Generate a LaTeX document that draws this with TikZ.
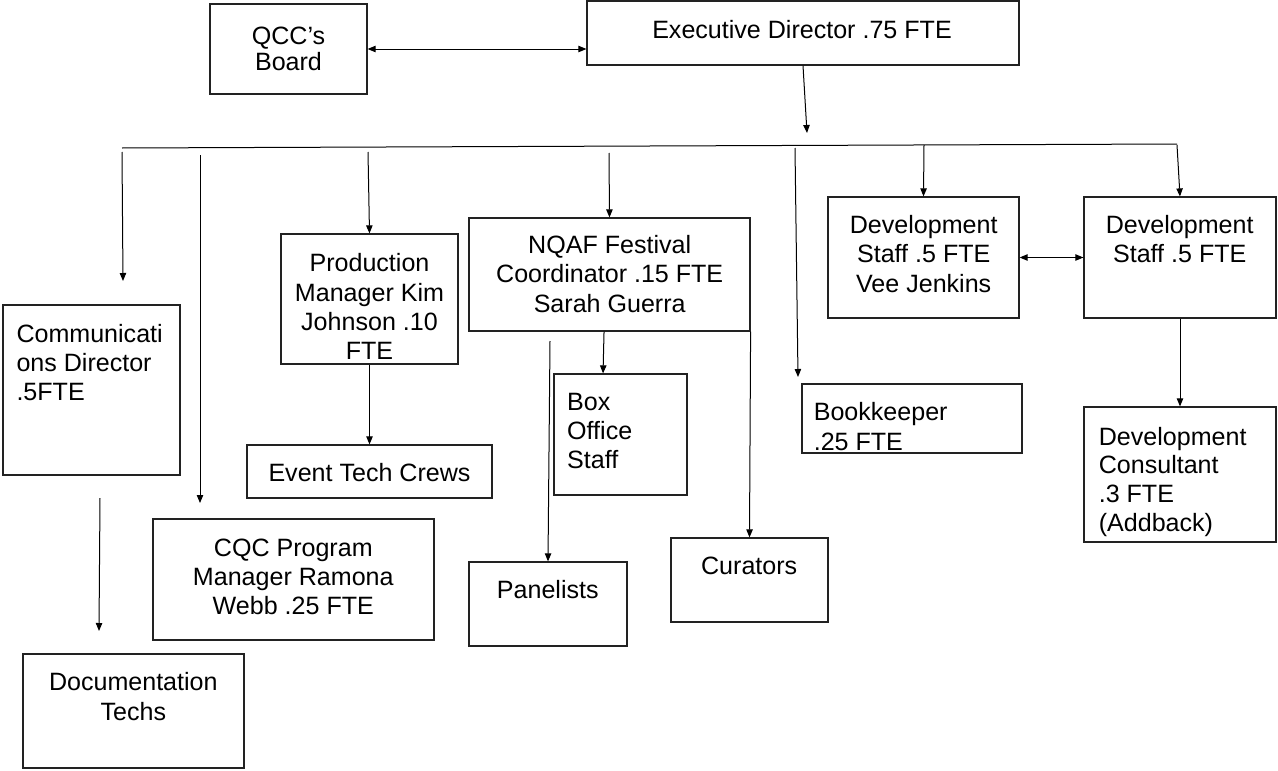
\documentclass[tikz,border=0pt]{standalone}
\usepackage{fontspec}
\setmainfont{Liberation Sans}
\usetikzlibrary{arrows.meta,fit}

\tikzset{every picture/.style={line width=0.75pt}}
\tikzset{
  box/.style={draw, inner sep=0pt, line width=0.9pt, color={rgb, 255:red, 34; green, 34; blue, 34 }},
  txt/.style={anchor=base, inner sep=0pt, align=center, font=\fontsize{18.8}{22}\selectfont},
  ltxt/.style={anchor=base west, inner sep=0pt, align=left, font=\fontsize{18.8}{22}\selectfont},
  arr/.style={-{Triangle[length=6pt,width=4.8pt]}},
  darr/.style={{Triangle[length=6pt,width=4.8pt]}-{Triangle[length=6pt,width=4.8pt]}}
}

\begin{document}
\begin{tikzpicture}[x=0.75pt,y=0.75pt,yscale=-1,xscale=1]
		\useasboundingbox (0,0) rectangle (1278,771);

		%Shape: Rectangle [board]
		\node [box, fit={(210,4) (367,94)}] (board) {};
		%Shape: Rectangle [exec]
		\node [box, fit={(587,1) (1019,65)}] (exec) {};
		%Shape: Rectangle [comm]
		\node [box, fit={(3,305) (180,475)}] (comm) {};
		%Shape: Rectangle [cqc]
		\node [box, fit={(153,519) (434,640)}] (cqc) {};
		%Shape: Rectangle [prod]
		\node [box, fit={(281,234) (458,364)}] (prod) {};
		%Shape: Rectangle [event]
		\node [box, fit={(247,445) (492,498)}] (event) {};
		%Shape: Rectangle [nqaf]
		\node [box, fit={(469,218) (750,331)}] (nqaf) {};
		%Shape: Rectangle [boxoff]
		\node [box, fit={(554,374) (687,495)}] (boxoff) {};
		%Shape: Rectangle [panel]
		\node [box, fit={(469,562) (627,646)}] (panel) {};
		%Shape: Rectangle [cur]
		\node [box, fit={(671,538) (828,622)}] (cur) {};
		%Shape: Rectangle [book]
		\node [box, fit={(802,384) (1022,453)}] (book) {};
		%Shape: Rectangle [dev1]
		\node [box, fit={(828,197) (1019,318)}] (dev1) {};
		%Shape: Rectangle [dev2]
		\node [box, fit={(1084,197) (1276,318)}] (dev2) {};
		%Shape: Rectangle [cons]
		\node [box, fit={(1084,407) (1276,542)}] (cons) {};
		%Shape: Rectangle [doc]
		\node [box, fit={(23,654) (244,768)}] (doc) {};

		%Free ends
		\coordinate (exectip) at (807,133);
		\coordinate (busL) at (122,148);
		\coordinate (busR) at (1177,144);
		\coordinate (d1a) at (122,152);
		\coordinate (d1b) at (123,281);
		\coordinate (d2a) at (200,155);
		\coordinate (d2b) at (200,503);
		\coordinate (d3a) at (368,152);
		\coordinate (d4a) at (609,153);
		\coordinate (d5a) at (795,148);
		\coordinate (d5b) at (798,377);
		\coordinate (d6a) at (924,145);
		\coordinate (d7a) at (1177,145);
		\coordinate (pana) at (550,341);
		\coordinate (doca) at (100,498);
		\coordinate (docb) at (99,631);

		%Straight Lines
		\draw [darr] (board.east) -- (board.east -| exec.west);
		\draw [arr] (exec.south) -- (exectip);
		\draw (busL) -- (busR);
		\draw [arr] (d1a) -- (d1b);
		\draw [arr] (d2a) -- (d2b);
		\draw [arr] (d3a) -- (prod.north);
		\draw [arr] (d4a) -- (nqaf.north);
		\draw [arr] (d5a) -- (d5b);
		\draw [arr] (d6a) -- (dev1.north);
		\draw [arr] (d7a) -- (dev2.north);
		\draw [arr] (prod.south) -- (event.north);
		\draw [arr] ([xshift=-4.1pt]nqaf.south) -- ([xshift=-13.1pt]boxoff.north);
		\draw [arr] (pana) -- (panel.north);
		\draw [arr] (nqaf.south east) -- (cur.north);
		\draw [darr] (dev1.east) -- (dev2.west);
		\draw [arr] (dev2.south) -- (cons.north);
		\draw [arr] (doca) -- (docb);

		% Text Node (anchored at the baseline of the last line)
		\node [txt, font=\fontsize{18.8}{19.3}\selectfont] (boardtxt) at (288.5,70) {QCC’s\\Board};
		% Text Node
		\node [txt] (exectxt) at (802,38) {Executive Director .75 FTE};
		% Text Node
		\node [ltxt] (commtxt) at (16,400.7) {Communicati\\ons Director\\.5FTE};
		% Text Node
		\node [txt] (prodtxt) at (369.5,359.7) {Production\\Manager Kim\\Johnson .10\\FTE};
		% Text Node
		\node [txt] (eventtxt) at (369.5,481.7) {Event Tech Crews};
		% Text Node
		\node [txt] (nqaftxt) at (609.7,312.3) {NQAF Festival\\Coordinator .15 FTE\\Sarah Guerra};
		% Text Node
		\node [ltxt] (boxofftxt) at (566.7,468.7) {Box\\Office\\Staff};
		% Text Node
		\node [ltxt] (booktxt) at (813.3,450) {Bookkeeper\\.25 FTE};
		% Text Node
		\node [txt] (dev1txt) at (923.7,292) {Development\\Staff .5 FTE\\Vee Jenkins};
		% Text Node
		\node [txt] (dev2txt) at (1179.7,262.7) {Development\\Staff .5 FTE};
		% Text Node
		\node [ltxt, font=\fontsize{18.8}{21.4}\selectfont] (constxt) at (1098.3,531) {Development\\Consultant\\.3 FTE\\(Addback)};
		% Text Node
		\node [txt] (cqctxt) at (293.3,614.7) {CQC Program\\Manager Ramona\\Webb .25 FTE};
		% Text Node
		\node [txt] (paneltxt) at (547.8,598.3) {Panelists};
		% Text Node
		\node [txt] (curtxt) at (749.2,574.3) {Curators};
		% Text Node
		\node [txt] (doctxt) at (133.3,720) {Documentation\\Techs};
\end{tikzpicture}
\end{document}
